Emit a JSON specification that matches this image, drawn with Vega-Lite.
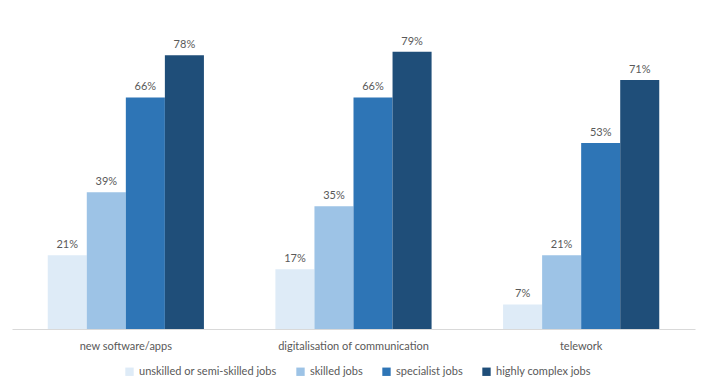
{
  "$schema": "https://vega.github.io/schema/vega-lite/v6.json",
  "width": 683,
  "height": 300,
  "autosize": {"type": "none"},
  "padding": {"left": 12, "top": 29, "right": 15, "bottom": 62},
  "background": "white",
  "data": {"values": [
    {"area": "new software/apps", "job": "unskilled or semi-skilled jobs", "value": 0.21},
    {"area": "new software/apps", "job": "skilled jobs", "value": 0.39},
    {"area": "new software/apps", "job": "specialist jobs", "value": 0.66},
    {"area": "new software/apps", "job": "highly complex jobs", "value": 0.78},
    {"area": "digitalisation of communication", "job": "unskilled or semi-skilled jobs", "value": 0.17},
    {"area": "digitalisation of communication", "job": "skilled jobs", "value": 0.35},
    {"area": "digitalisation of communication", "job": "specialist jobs", "value": 0.66},
    {"area": "digitalisation of communication", "job": "highly complex jobs", "value": 0.79},
    {"area": "telework", "job": "unskilled or semi-skilled jobs", "value": 0.07},
    {"area": "telework", "job": "skilled jobs", "value": 0.21},
    {"area": "telework", "job": "specialist jobs", "value": 0.53},
    {"area": "telework", "job": "highly complex jobs", "value": 0.71}
  ]},
  "encoding": {
    "x": {"field": "area", "type": "nominal", "sort": null,
      "scale": {"paddingInner": 0.314, "paddingOuter": 0.157},
      "axis": {"title": null, "labelAngle": 0, "ticks": false, "domainColor": "#d9d9d9", "labelColor": "#595959", "labelFont": "Lato", "labelFontSize": 11, "labelPadding": 11}},
    "xOffset": {"field": "job", "type": "nominal", "sort": ["unskilled or semi-skilled jobs", "skilled jobs", "specialist jobs", "highly complex jobs"], "scale": {"paddingInner": 0, "paddingOuter": 0}},
    "y": {"field": "value", "type": "quantitative", "scale": {"domain": [0, 0.855]}, "axis": null}
  },
  "layer": [
    {"mark": {"type": "bar"},
     "encoding": {
       "color": {"field": "job", "type": "nominal", "sort": ["unskilled or semi-skilled jobs", "skilled jobs", "specialist jobs", "highly complex jobs"],
         "scale": {"domain": ["unskilled or semi-skilled jobs", "skilled jobs", "specialist jobs", "highly complex jobs"], "range": ["#deebf7", "#9dc3e6", "#2e75b6", "#1f4e79"]},
         "legend": {"title": null, "orient": "none", "legendX": 112, "legendY": 337, "direction": "horizontal", "symbolType": "square", "symbolSize": 70, "labelColor": "#595959", "labelFont": "Lato", "labelFontSize": 11, "columnPadding": 18}}
     }},
    {"mark": {"type": "text", "dy": -10, "font": "Lato", "fontSize": 11, "color": "#595959"},
     "encoding": {"text": {"field": "value", "type": "quantitative", "format": ".0%"}, "detail": {"field": "job"}}
    }
  ],
  "config": {"view": {"stroke": null}}
}
